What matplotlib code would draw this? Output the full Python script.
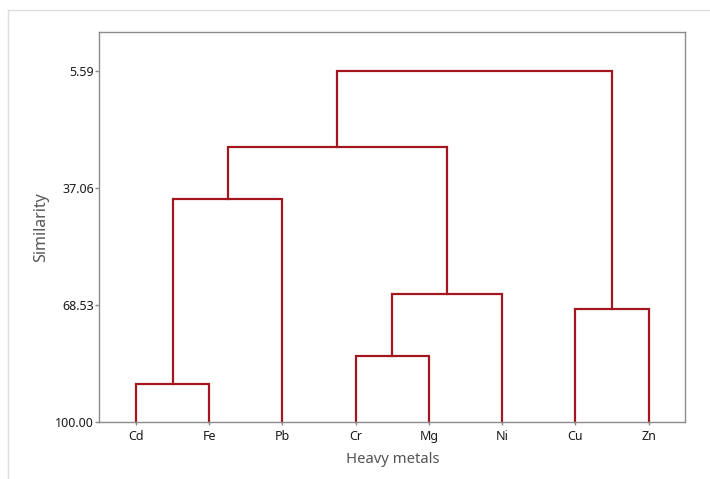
import numpy as np
import matplotlib
matplotlib.use('Agg')
from matplotlib import pyplot as plt
from matplotlib.lines import Line2D

# leaves in dendrogram order
leaves = ['Cd', 'Fe', 'Pb', 'Cr', 'Mg', 'Ni', 'Cu', 'Zn']
# linkage: clusters 0-7 are leaves, new clusters numbered from 8
link_a = [0, 3, 6, 9, 8, 12, 13]
link_b = [1, 4, 7, 5, 2, 11, 10]
link_sim = [89.77, 82.16, 69.52, 65.49, 40.02, 25.95, 5.59]
yticks = [5.59, 37.06, 68.53, 100.00]

line_c = '#A3161E'
spine_c = '#8c8c8c'

plt.rcParams['font.family'] = ['Noto Sans', 'DejaVu Sans']

fig = plt.figure(figsize=[7.1, 4.79], dpi=100)
fig.patch.set_facecolor('w')
ax = fig.add_axes([0.1399, 0.1190, 0.9652 - 0.1399, 0.9326 - 0.1190])

# positions / heights of every node
xpos = {i: i + 1.0 for i in range(len(leaves))}
hgt = {i: 100.0 for i in range(len(leaves))}
for k, (a, b, s) in enumerate(zip(link_a, link_b, link_sim)):
    node = len(leaves) + k
    xa, xb = xpos[a], xpos[b]
    ax.plot([xa, xa, xb, xb], [hgt[a], s, s, hgt[b]], c=line_c, lw=1.6,
            solid_joinstyle='miter', clip_on=False)
    xpos[node] = (xa + xb) / 2
    hgt[node] = s

ax.set_xlim(0.5, 8.5)
ax.set_ylim(100, -4.82)
ax.set_yticks(yticks)
ax.set_yticklabels(['%.2f' % v for v in yticks])
ax.set_xticks(np.arange(1, len(leaves) + 1))
ax.set_xticklabels(leaves)

for sp in ax.spines.values():
    sp.set_color(spine_c)
    sp.set_linewidth(1.0)
ax.tick_params(axis='y', length=3, width=1, color=spine_c, labelsize=9, labelcolor='#1a1a1a', pad=1)
ax.tick_params(axis='x', length=2, width=1, color=spine_c, labelsize=9, labelcolor='#1a1a1a', pad=4)

ax.set_ylabel('Similarity', fontsize=11.5, color='#555555', labelpad=4)
ax.set_xlabel('Heavy metals', fontsize=10.7, color='#555555', labelpad=6)

# light frame around the figure (top and left edges)
fig.add_artist(Line2D([8 / 710, 8 / 710], [0, 1 - 10 / 479], color='#dddddd', lw=1))
fig.add_artist(Line2D([8 / 710, 1], [1 - 10 / 479, 1 - 10 / 479], color='#dddddd', lw=1))

plt.savefig('out.png', dpi=100)
